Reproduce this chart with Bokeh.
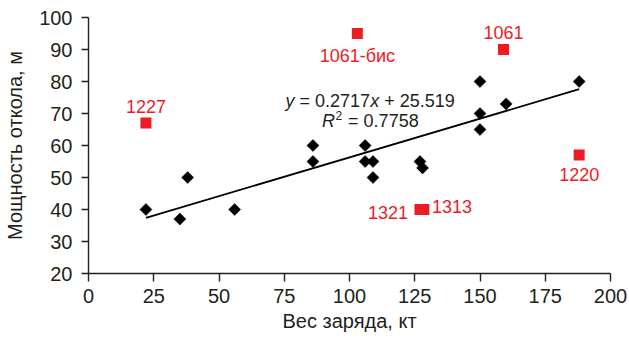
import numpy as np
from bokeh.plotting import figure
from bokeh.models import Range1d, FixedTicker, Label, ColumnDataSource
from bokeh.core.properties import value
from bokeh.embed import file_html
from bokeh.resources import INLINE

# --- data ---
black_x = [22, 35, 38, 56, 86, 86, 106, 106, 109, 109, 127, 128, 150, 150, 150, 160, 188]
black_y = [40, 37, 50, 40, 60, 55, 60, 55, 55, 50, 55, 53, 80, 70, 65, 73, 80]

red_x = [22, 103, 159, 188, 127, 128.5]
red_y = [67, 95, 90, 57, 40, 40]
red_names = ["1227", "1061-бис", "1061", "1220", "1321", "1313"]

trend_x = [22, 188]
trend_y = [37.4, 77.6]

x_ticks = [0, 25, 50, 75, 100, 125, 150, 175, 200]
y_ticks = [20, 30, 40, 50, 60, 70, 80, 90, 100]

FONT = "Liberation Sans"
RED = "#ED1C24"
INK = "#231F20"
NB = "\u00a0"

p = figure(width=629, height=340, output_backend="svg", toolbar_location=None,
           x_range=Range1d(0, 200), y_range=Range1d(20, 100),
           min_border_left=88, min_border_right=19, min_border_top=17, min_border_bottom=67)
p.outline_line_color = None
p.xgrid.visible = False
p.ygrid.visible = False
p.background_fill_color = "white"
p.border_fill_color = "white"

for ax in (p.xaxis[0], p.yaxis[0]):
    ax.axis_line_color = INK
    ax.axis_line_width = 1.4
    ax.major_tick_line_color = INK
    ax.major_tick_line_width = 1.4
    ax.major_tick_in = 0
    ax.minor_tick_line_color = None
    ax.major_label_text_font = FONT
    ax.major_label_text_font_size = "20px"
    ax.major_label_text_color = INK
    ax.axis_label_text_font = FONT
    ax.axis_label_text_font_size = "20px"
    ax.axis_label_text_font_style = "normal"
    ax.axis_label_text_color = INK

p.xaxis.ticker = FixedTicker(ticks=x_ticks)
p.yaxis.ticker = FixedTicker(ticks=y_ticks)
p.xaxis.major_tick_out = 8
p.yaxis.major_tick_out = 7
p.xaxis.major_label_standoff = 7
p.yaxis.major_label_standoff = 9
p.xaxis.axis_label_standoff = 4
p.yaxis.axis_label_standoff = 10
p.xaxis.axis_label = "Вес заряда, кт"
p.yaxis.axis_label = "Мощность откола, м"

# trend line
p.line(trend_x, trend_y, line_color="black", line_width=1.8)

# black diamonds
p.scatter(black_x, black_y, marker="square", angle=np.pi / 4, size=8.5,
          fill_color="black", line_color="black", line_width=0.5)

# red squares
p.scatter(red_x, red_y, marker="square", size=11, fill_color=RED, line_color=None)

# red labels
lab_dx = [0, 0, 0, 0, -12, 8]
lab_dy = [-17, 22, -17, 19, 3, -3]
lab_align = ["center", "center", "center", "center", "right", "left"]
src = ColumnDataSource(dict(x=red_x, y=red_y, t=red_names, dx=lab_dx, dy=lab_dy, al=lab_align))
p.text(x="x", y="y", text="t", x_offset="dx", y_offset="dy", text_align="al",
       text_baseline="middle", text_color=RED, text_font=value(FONT),
       text_font_size="18px", source=src)

# equation text
eq_x, eq_y = 75.5, 73.9
pieces = [("y", 0, "italic"), (NB + "=" + NB + "0.2717", 9, "normal"), ("x", 84.6, "italic"),
          (NB + "+" + NB + "25.519", 93.6, "normal")]
for t, off, st in pieces:
    p.add_layout(Label(x=eq_x, y=eq_y, text=t, x_offset=off, text_baseline="middle",
                       text_font=FONT, text_font_size="18px", text_font_style=st, text_color=INK))

r_x, r_y = 89.5, 67.6
p.add_layout(Label(x=r_x, y=r_y, text="R", x_offset=0, text_baseline="middle",
                   text_font=FONT, text_font_size="18px", text_font_style="italic", text_color=INK))
p.add_layout(Label(x=r_x, y=r_y, text="2", x_offset=13.5, y_offset=6, text_baseline="middle",
                   text_font=FONT, text_font_size="12px", text_color=INK))
p.add_layout(Label(x=r_x, y=r_y, text=NB + "=" + NB + "0.7758", x_offset=21, text_baseline="middle",
                   text_font=FONT, text_font_size="18px", text_color=INK))

open("out.html", "w").write(file_html(p, INLINE))
